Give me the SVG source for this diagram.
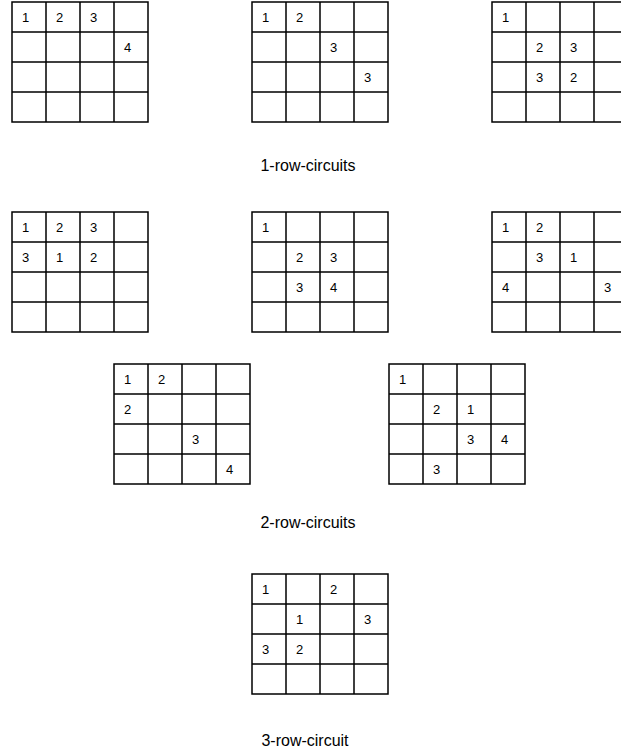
<svg xmlns="http://www.w3.org/2000/svg" xmlns:xlink="http://www.w3.org/1999/xlink" width="621" height="751" viewBox="0 0 621 751">
<style>
.g{fill:#fff;stroke:#000;stroke-width:1.5}
.n{font-family:"Liberation Sans",Arial,sans-serif;font-size:13px;fill:#000}
.l{font-family:"Liberation Sans",Arial,sans-serif;font-size:16px;fill:#000;text-anchor:middle}
</style>
<defs>
<path id="grid" class="g" d="M0 0H136V120H0Z M34 0V120 M68 0V120 M102 0V120 M0 30H136 M0 60H136 M0 90H136"/>
</defs>
<rect width="621" height="751" fill="#fff"/>
<g id="g1" transform="translate(12,2)"><use xlink:href="#grid"/>
<text class="n" x="10" y="20">1</text><text class="n" x="44" y="20">2</text><text class="n" x="78" y="20">3</text>
<text class="n" x="112" y="50">4</text></g>
<g id="g2" transform="translate(252,2)"><use xlink:href="#grid"/>
<text class="n" x="10" y="20">1</text><text class="n" x="44" y="20">2</text>
<text class="n" x="78" y="50">3</text><text class="n" x="112" y="80">3</text></g>
<g id="g3" transform="translate(492,2)"><use xlink:href="#grid"/>
<text class="n" x="10" y="20">1</text>
<text class="n" x="44" y="50">2</text><text class="n" x="78" y="50">3</text>
<text class="n" x="44" y="80">3</text><text class="n" x="78" y="80">2</text></g>
<text id="lab1" class="l" x="308" y="171">1-row-circuits</text>
<g id="g4" transform="translate(12,212)"><use xlink:href="#grid"/>
<text class="n" x="10" y="20">1</text><text class="n" x="44" y="20">2</text><text class="n" x="78" y="20">3</text>
<text class="n" x="10" y="50">3</text><text class="n" x="44" y="50">1</text><text class="n" x="78" y="50">2</text></g>
<g id="g5" transform="translate(252,212)"><use xlink:href="#grid"/>
<text class="n" x="10" y="20">1</text>
<text class="n" x="44" y="50">2</text><text class="n" x="78" y="50">3</text>
<text class="n" x="44" y="80">3</text><text class="n" x="78" y="80">4</text></g>
<g id="g6" transform="translate(492,212)"><use xlink:href="#grid"/>
<text class="n" x="10" y="20">1</text><text class="n" x="44" y="20">2</text>
<text class="n" x="44" y="50">3</text><text class="n" x="78" y="50">1</text>
<text class="n" x="10" y="80">4</text><text class="n" x="112" y="80">3</text></g>
<g id="g7" transform="translate(114,364)"><use xlink:href="#grid"/>
<text class="n" x="10" y="20">1</text><text class="n" x="44" y="20">2</text>
<text class="n" x="10" y="50">2</text>
<text class="n" x="78" y="80">3</text>
<text class="n" x="112" y="110">4</text></g>
<g id="g8" transform="translate(389,364)"><use xlink:href="#grid"/>
<text class="n" x="10" y="20">1</text>
<text class="n" x="44" y="50">2</text><text class="n" x="78" y="50">1</text>
<text class="n" x="78" y="80">3</text><text class="n" x="112" y="80">4</text>
<text class="n" x="44" y="110">3</text></g>
<text id="lab2" class="l" x="308" y="528">2-row-circuits</text>
<g id="g9" transform="translate(252,574)"><use xlink:href="#grid"/>
<text class="n" x="10" y="20">1</text><text class="n" x="78" y="20">2</text>
<text class="n" x="44" y="50">1</text><text class="n" x="112" y="50">3</text>
<text class="n" x="10" y="80">3</text><text class="n" x="44" y="80">2</text></g>
<text id="lab3" class="l" x="305" y="746">3-row-circuit</text>
</svg>
